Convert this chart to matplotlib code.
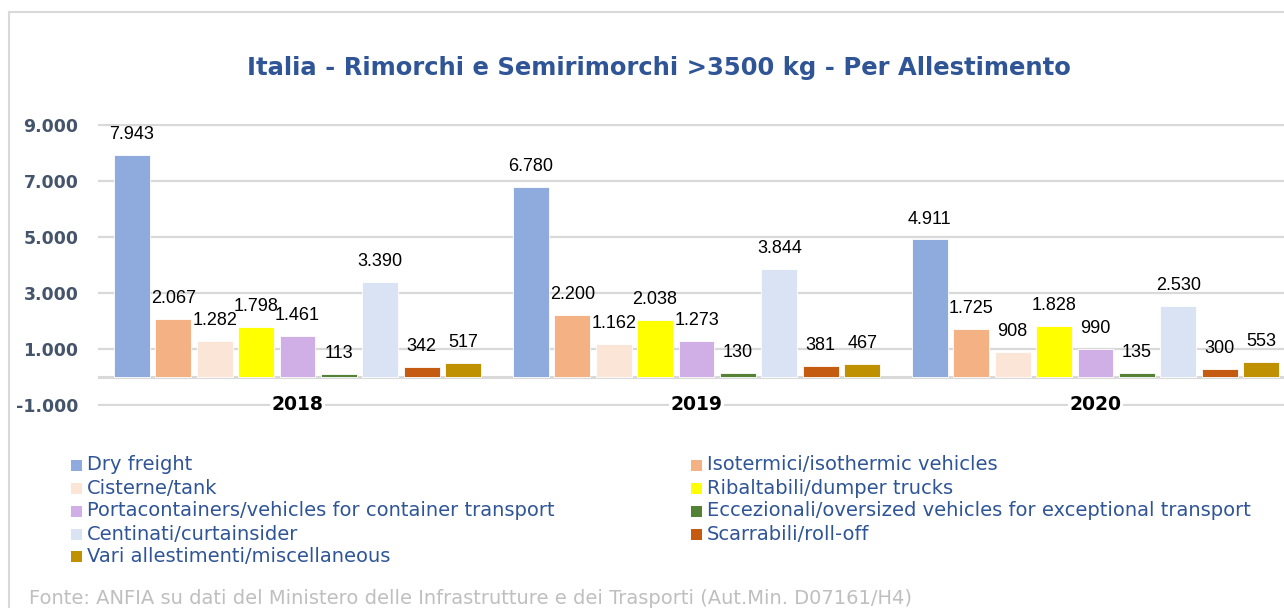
import matplotlib
matplotlib.use("Agg")
import matplotlib.pyplot as plt
from matplotlib.patches import Rectangle
import numpy as np

years = ["2018", "2019", "2020"]
series = [
    "Dry freight",
    "Isotermici/isothermic vehicles",
    "Cisterne/tank",
    "Ribaltabili/dumper trucks",
    "Portacontainers/vehicles for container transport",
    "Eccezionali/oversized vehicles for exceptional transport",
    "Centinati/curtainsider",
    "Scarrabili/roll-off",
    "Vari allestimenti/miscellaneous",
]
values_2018 = [7943, 2067, 1282, 1798, 1461, 113, 3390, 342, 517]
values_2019 = [6780, 2200, 1162, 2038, 1273, 130, 3844, 381, 467]
values_2020 = [4911, 1725, 908, 1828, 990, 135, 2530, 300, 553]
yticks = [-1000, 1000, 3000, 5000, 7000, 9000]
colors = ["#8FAADC", "#F4B183", "#FBE5D6", "#FFFF00", "#CFAFE6",
          "#548235", "#DAE3F3", "#C55A11", "#BF9000"]

data = np.array([values_2018, values_2019, values_2020])

W, H = 1284, 608
fig = plt.figure(figsize=(W / 100, H / 100), dpi=100)
fig.patch.set_facecolor("white")

# outer frame
fig.add_artist(Rectangle((9 / W, -0.1), 2.0, 1 - 12 / H + 0.1,
                         transform=fig.transFigure, fill=False,
                         edgecolor="#D9D9D9", lw=1.5))

# axes
y0 = lambda v: 377 - 0.028 * v
ymin, ymax = -1040, 9040
top_px, bot_px = y0(ymax), y0(ymin)
ax = fig.add_axes([98 / W, 1 - bot_px / H, 1197 / W, (bot_px - top_px) / H])
ax.set_xlim(-0.5, 2.5)
ax.set_ylim(ymin, ymax)
for s in ax.spines.values():
    s.set_visible(False)
ax.set_facecolor("none")

ax.set_yticks(yticks)
ax.set_yticklabels([f"{t:,}".replace(",", ".") for t in yticks],
                   fontsize=12.5, fontweight="bold", color="#44546A")
ax.tick_params(axis="y", length=0, pad=14)
ax.set_xticks([])
ax.yaxis.grid(True, color="#D9D9D9", lw=1.6)
ax.set_axisbelow(True)
ax.axhline(0, color="#D9D9D9", lw=2.2, zorder=1.5)

pitch = 0.1038
bw = 0.090
x = np.arange(len(years))
for j, name in enumerate(series):
    xs = x + (j - 4) * pitch
    vals = data[:, j]
    ax.bar(xs, vals, width=bw, color=colors[j], zorder=2,
           edgecolor="white", linewidth=0.6)
    for xi, v in zip(xs, vals):
        ax.annotate(f"{v:,}".replace(",", "."), (xi, v),
                    xytext=(0, 11.5), textcoords="offset points",
                    ha="center", va="baseline", fontsize=13,
                    family="Liberation Sans", color="black", zorder=3)

for xi, yr in zip(x, years):
    ax.text(xi, -1000, yr, ha="center", va="center", fontsize=13.5,
            fontweight="bold", color="black", zorder=3,
            bbox=dict(facecolor="white", edgecolor="none", pad=1))

# title
fig.text(658.5 / W, 1 - 68 / H,
         "Italia - Rimorchi e Semirimorchi >3500 kg - Per Allestimento",
         ha="center", va="center", fontsize=17.5, fontweight="bold",
         color="#2F5597")

# legend (manual, two columns, row-wise order)
row_y = [465, 488, 511, 534, 556]
col_x = [71, 691]
for i, name in enumerate(series):
    c, r = i % 2, i // 2
    yc = row_y[r]
    fig.add_artist(Rectangle((col_x[c] / W, 1 - (yc + 5.5) / H), 11 / W, 11 / H,
                             transform=fig.transFigure, facecolor=colors[i],
                             edgecolor="none"))
    fig.text((col_x[c] + 16) / W, 1 - yc / H, name, ha="left", va="center",
             fontsize=14, color="#2F5597")

fig.text(29 / W, 1 - 598 / H,
         "Fonte: ANFIA su dati del Ministero delle Infrastrutture e dei Trasporti (Aut.Min. D07161/H4)",
         ha="left", va="center", fontsize=14, color="#BFBFBF")

fig.savefig("out.png", dpi=100)
